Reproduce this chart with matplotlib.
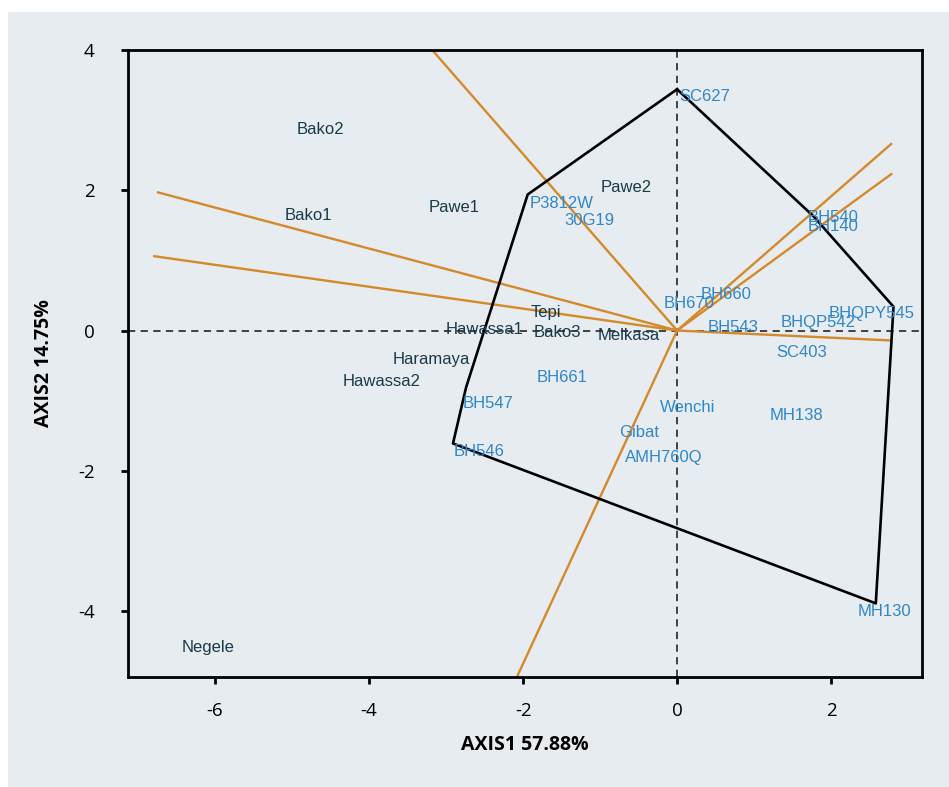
import matplotlib.pyplot as plt
from matplotlib.patches import Rectangle

plt.rcParams['axes.unicode_minus'] = False

# entornos (texto oscuro)
env_names = ['Bako2', 'Bako1', 'Pawe1', 'Pawe2', 'Tepi', 'Hawassa1', 'Bako3',
             'Melkasa', 'Haramaya', 'Hawassa2', 'Negele']
env_x = [-4.94, -5.10, -3.23, -0.99, -1.90, -3.01, -1.86, -1.03, -3.70, -4.34, -6.44]
env_y = [2.87, 1.64, 1.75, 2.04, 0.26, 0.02, -0.03, -0.07, -0.42, -0.72, -4.52]

# genotipos (texto azul)
gen_names = ['SC627', 'P3812W', '30G19', 'BH540', 'BH140', 'BH660', 'BH670',
             'BHQPY545', 'BH543', 'BHQP542', 'SC403', 'BH661', 'BH547', 'Wenchi',
             'MH138', 'Gibat', 'BH546', 'AMH760Q', 'MH130']
gen_x = [0.03, -1.92, -1.46, 1.70, 1.70, 0.30, -0.18, 1.97, 0.39, 1.34, 1.29,
         -1.83, -2.79, -0.22, 1.20, -0.75, -2.90, -0.68, 2.35]
gen_y = [3.34, 1.81, 1.57, 1.61, 1.48, 0.52, 0.39, 0.25, 0.04, 0.11, -0.31,
         -0.67, -1.04, -1.10, -1.21, -1.45, -1.72, -1.81, -4.00]

# poligono (vertices)
hull_x = [0.0, 1.77, 2.81, 2.58, -2.91, -2.74, -1.94, 0.0]
hull_y = [3.44, 1.63, 0.34, -3.89, -1.61, -0.81, 1.94, 3.44]

# rayos desde el origen
ray_x = [-3.18, -6.74, -6.79, 2.78, 2.78, 2.75, -2.08]
ray_y = [4.00, 1.97, 1.06, 2.66, 2.23, -0.14, -4.94]

bg = '#e7ecf0'
naranja = '#d4892a'
azul = '#2f86c9'
oscuro = '#183a4a'

fig = plt.figure(figsize=(9.49, 7.87), dpi=100)
fig.patch.set_facecolor('white')
fig.patches.append(Rectangle((8/949, 0), 1, 1 - 12/787, transform=fig.transFigure,
                             facecolor=bg, edgecolor='none', zorder=-10))

ax = fig.add_axes([128/949, 110/787, 794/949, 627/787])
ax.set_facecolor(bg)

ax.axvline(0, color='#333333', lw=1.3, dashes=(4, 3), zorder=1)
ax.axhline(0, color='#333333', lw=1.3, dashes=(4, 3), zorder=1)

for rx, ry in zip(ray_x, ray_y):
    ax.plot([0, rx], [0, ry], color=naranja, lw=1.7, zorder=2)

ax.plot(hull_x, hull_y, color='black', lw=1.9, zorder=3)

for nm, x, y in zip(env_names, env_x, env_y):
    ax.text(x, y, nm, color=oscuro, fontsize=12, family='Liberation Sans',
            ha='left', va='center', zorder=4)
for nm, x, y in zip(gen_names, gen_x, gen_y):
    ax.text(x, y, nm, color=azul, fontsize=12, family='Liberation Sans',
            ha='left', va='center', zorder=4)

ax.set_xlim(-7.13, 3.18)
ax.set_ylim(-4.94, 4.0)
ax.set_xticks([-6, -4, -2, 0, 2])
ax.set_yticks([-4, -2, 0, 2, 4])

for s in ax.spines.values():
    s.set_linewidth(2)
    s.set_color('black')
ax.tick_params(direction='out', length=5, width=2, labelsize=13.5)
ax.tick_params(axis='x', pad=13)
ax.tick_params(axis='y', pad=19)
for lb in ax.get_xticklabels() + ax.get_yticklabels():
    lb.set_family('Open Sans')

ax.set_xlabel('AXIS1 57.88%', fontsize=14, fontweight='bold', family='Open Sans')
ax.set_ylabel('AXIS2 14.75%', fontsize=14, fontweight='bold', family='Open Sans')
ax.xaxis.set_label_coords(0.5, -0.092)
ax.yaxis.set_label_coords(-0.093, 0.5)

fig.savefig('out.png', dpi=100)
